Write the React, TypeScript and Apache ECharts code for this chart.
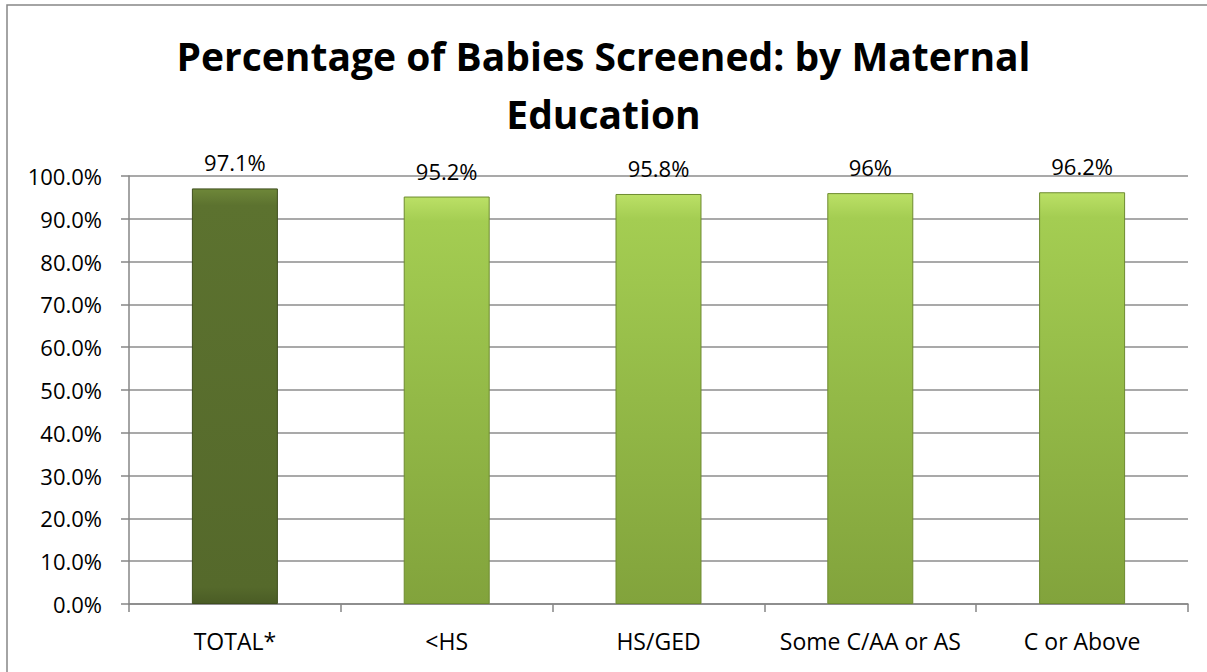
import React, { useEffect, useRef } from "react";
import * as echarts from "echarts";

const categories = ["TOTAL*", "<HS", "HS/GED", "Some C/AA or AS", "C or Above"];
const values = [97.1, 95.2, 95.8, 96, 96.2];
const valueLabels = ["97.1%", "95.2%", "95.8%", "96%", "96.2%"];
const titleText = "Percentage of Babies Screened: by Maternal\nEducation";

const FONT = "'Open Sans', Lato, sans-serif";

const darkGrad = () =>
  new echarts.graphic.LinearGradient(0, 0, 0, 1, [
    { offset: 0, color: "#6E8739" },
    { offset: 0.04, color: "#5C722F" },
    { offset: 0.96, color: "#55692B" },
    { offset: 1, color: "#4A5C25" },
  ]);
const greenGrad = () =>
  new echarts.graphic.LinearGradient(0, 0, 0, 1, [
    { offset: 0, color: "#BBE066" },
    { offset: 0.06, color: "#A4CD52" },
    { offset: 0.5, color: "#93B947" },
    { offset: 1, color: "#82A33C" },
  ]);

export default function App() {
  const ref = useRef<HTMLDivElement>(null);
  useEffect(() => {
    if (!ref.current) return;
    const chart = echarts.init(ref.current, undefined, { renderer: "svg" });
    chart.setOption({
      animation: false,
      backgroundColor: "#ffffff",
      textStyle: { fontFamily: FONT },
      title: {
        text: titleText,
        left: "center",
        top: 21,
        textStyle: {
          fontFamily: FONT,
          fontWeight: "bold",
          fontSize: 39,
          lineHeight: 58,
          color: "#000000",
        },
      },
      graphic: [
        {
          type: "rect",
          shape: { x: 7, y: 5, width: 1210, height: 680 },
          style: { fill: "none", stroke: "#868686", lineWidth: 1.5 },
          silent: true,
        },
      ],
      grid: { left: 129, right: 19, top: 176, bottom: 68 },
      xAxis: {
        type: "category",
        data: categories,
        axisLine: { lineStyle: { color: "#868686", width: 1.5 } },
        axisTick: { show: true, alignWithLabel: false, length: 8, lineStyle: { color: "#868686", width: 1.5 } },
        axisLabel: { color: "#000", fontSize: 23, margin: 25, interval: 0, fontFamily: FONT },
      },
      yAxis: {
        type: "value",
        min: 0,
        max: 100,
        interval: 10,
        axisLine: { show: true, lineStyle: { color: "#868686", width: 1.5 } },
        axisTick: { show: true, length: 8, lineStyle: { color: "#868686", width: 1.5 } },
        axisLabel: {
          color: "#000",
          fontSize: 22,
          margin: 27,
          fontFamily: FONT,
          formatter: (v: number) => v.toFixed(1) + "%",
        },
        splitLine: { lineStyle: { color: "#8C8C8C", width: 1.5 } },
      },
      series: [
        {
          type: "bar",
          barWidth: "40.6%",
          data: values.map((v, i) => ({
            value: v,
            itemStyle: {
              color: i === 0 ? darkGrad() : greenGrad(),
              borderColor: i === 0 ? "#3F4F1E" : "#6E8B30",
              borderWidth: 1,
            },
          })),
          label: {
            show: true,
            position: "top",
            distance: 15,
            color: "#000",
            fontSize: 22,
            fontFamily: FONT,
            formatter: (p: any) => valueLabels[p.dataIndex],
          },
        },
      ],
    });
    return () => chart.dispose();
  }, []);
  return (
    <div
      ref={ref}
      style={{ position: "fixed", left: 0, top: 0, width: 1207, height: 672 }}
    />
  );
}
